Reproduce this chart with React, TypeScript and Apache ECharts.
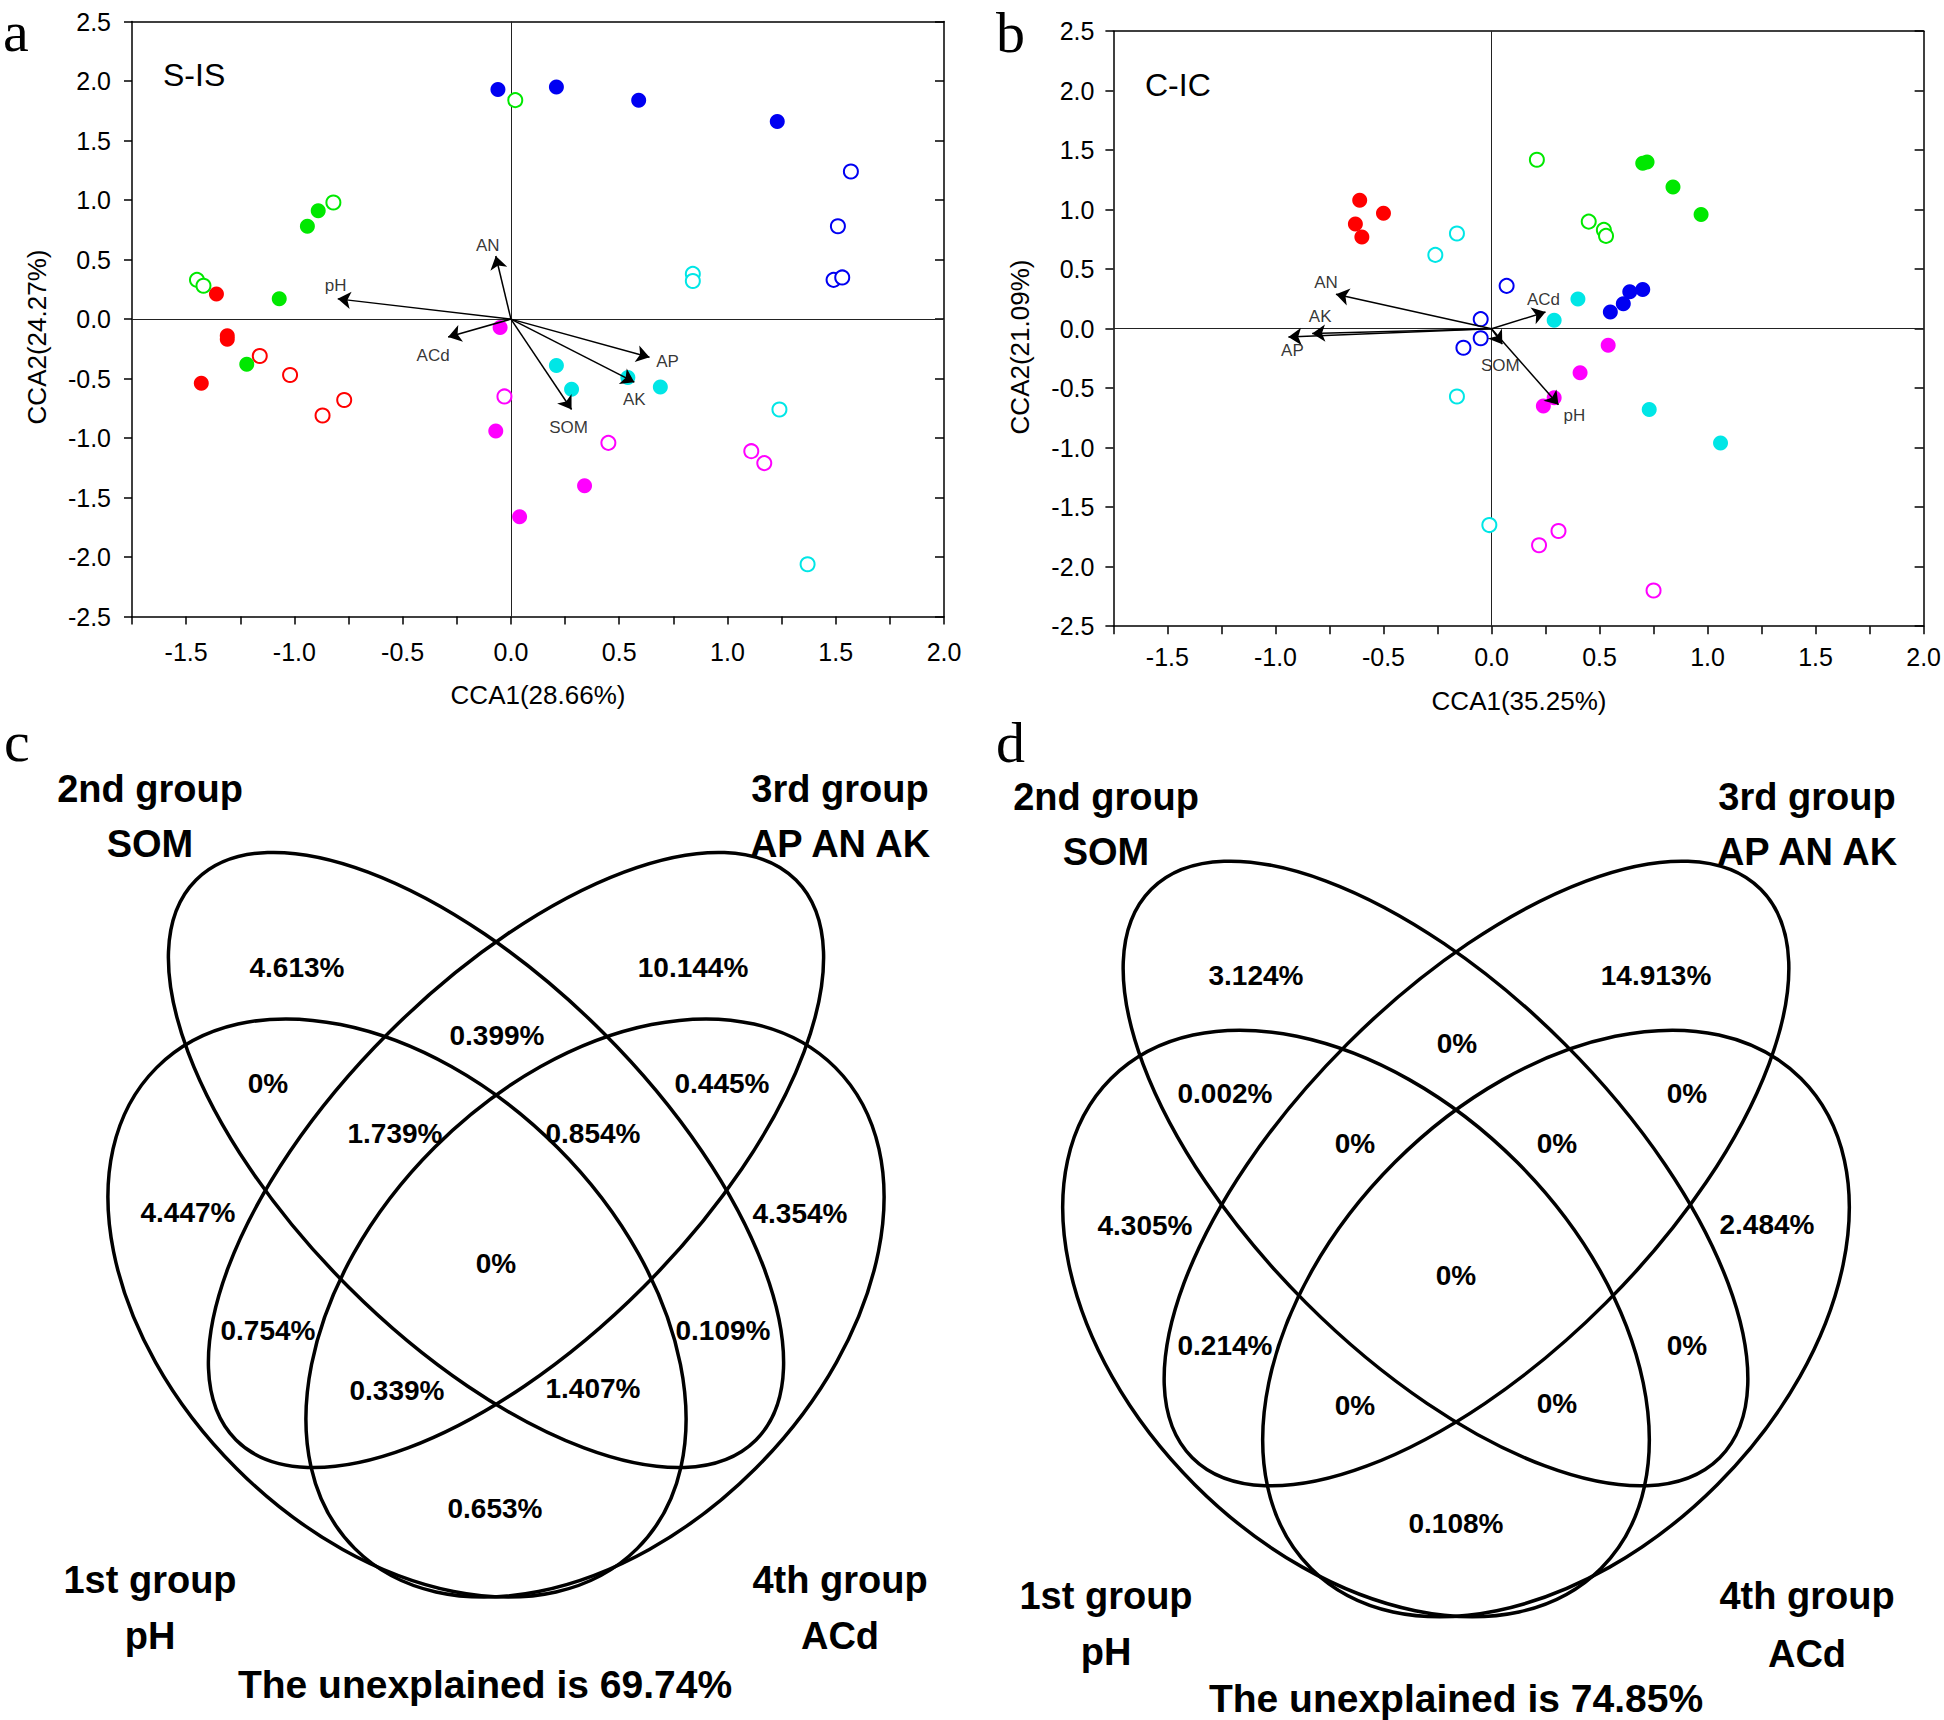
import React, { useEffect, useRef } from 'react';
import * as echarts from 'echarts';

const SANS = '"Liberation Sans", Arial, Helvetica, sans-serif';
const SERIF = '"Liberation Serif", "Times New Roman", serif';

// ---------- axis ranges / ticks ----------
const X_MIN = -1.75;
const X_MAX = 2.0;
const X_STEP = 0.25;
const Y_MIN = -2.5;
const Y_MAX = 2.5;
const Y_STEP = 0.5;

// ---------- panel a (S-IS) sample scores ----------
const aBlueFilled = [[-0.06, 1.93], [0.21, 1.95], [0.59, 1.84], [1.23, 1.66]];
const aBlueOpen = [[1.57, 1.24], [1.51, 0.78], [1.49, 0.33], [1.53, 0.35]];
const aGreenFilled = [[-0.89, 0.91], [-0.94, 0.78], [-1.07, 0.17], [-1.22, -0.38]];
const aGreenOpen = [[0.02, 1.84], [-0.82, 0.98], [-1.45, 0.33], [-1.42, 0.28]];
const aRedFilled = [[-1.36, 0.21], [-1.31, -0.14], [-1.31, -0.17], [-1.43, -0.54]];
const aRedOpen = [[-1.16, -0.31], [-1.02, -0.47], [-0.87, -0.81], [-0.77, -0.68]];
const aCyanFilled = [[0.21, -0.39], [0.28, -0.59], [0.54, -0.49], [0.69, -0.57]];
const aCyanOpen = [[0.84, 0.38], [0.84, 0.32], [1.24, -0.76], [1.37, -2.06]];
const aMagentaFilled = [[-0.05, -0.07], [-0.07, -0.94], [0.34, -1.4], [0.04, -1.66]];
const aMagentaOpen = [[-0.03, -0.65], [0.45, -1.04], [1.11, -1.11], [1.17, -1.21]];

// panel a environmental vectors
const aEnvNames = ['pH', 'AN', 'ACd', 'AP', 'AK', 'SOM'];
const aEnvX = [-0.8, -0.07, -0.29, 0.64, 0.57, 0.28];
const aEnvY = [0.17, 0.53, -0.15, -0.32, -0.53, -0.76];

// ---------- panel b (C-IC) sample scores ----------
const bBlueFilled = [[0.7, 0.33], [0.64, 0.31], [0.61, 0.21], [0.55, 0.14]];
const bBlueOpen = [[0.07, 0.36], [-0.05, 0.08], [-0.05, -0.08], [-0.13, -0.16]];
const bGreenFilled = [[0.7, 1.39], [0.72, 1.4], [0.84, 1.19], [0.97, 0.96]];
const bGreenOpen = [[0.21, 1.42], [0.45, 0.9], [0.52, 0.83], [0.53, 0.78]];
const bRedFilled = [[-0.61, 1.08], [-0.5, 0.97], [-0.63, 0.88], [-0.6, 0.77]];
const bCyanFilled = [[0.4, 0.25], [0.29, 0.07], [0.73, -0.68], [1.06, -0.96]];
const bCyanOpen = [[-0.16, 0.8], [-0.26, 0.62], [-0.16, -0.57], [-0.01, -1.65]];
const bMagentaFilled = [[0.54, -0.14], [0.41, -0.37], [0.29, -0.58], [0.24, -0.65]];
const bMagentaOpen = [[0.31, -1.7], [0.22, -1.82], [0.75, -2.2]];

// panel b environmental vectors
const bEnvNames = ['AN', 'AK', 'AP', 'ACd', 'SOM', 'pH'];
const bEnvX = [-0.72, -0.83, -0.94, 0.25, 0.05, 0.31];
const bEnvY = [0.29, -0.04, -0.07, 0.14, -0.13, -0.64];

// ---------- Venn (variation partitioning) values ----------
const vennGroups = ['2nd group', '3rd group', '1st group', '4th group'];
const vennVars = ['SOM', 'AP AN AK', 'pH', 'ACd'];
const vennCValues = ['4.613%', '10.144%', '0.399%', '0%', '0.445%', '1.739%', '0.854%', '4.447%', '4.354%', '0%', '0.754%', '0.109%', '0.339%', '1.407%', '0.653%'];
const vennDValues = ['3.124%', '14.913%', '0%', '0.002%', '0%', '0%', '0%', '4.305%', '2.484%', '0%', '0.214%', '0%', '0%', '0%', '0.108%'];
const unexplainedC = 69.74;
const unexplainedD = 74.85;

// ---------- styles / layout ----------
const COLORS = {
  red: '#ff0000',
  green: '#00e800',
  blue: '#0000f2',
  cyan: '#00e6e6',
  magenta: '#ff00ff',
};

const aLabelOffsets = [[-2, -13], [-8, -11], [-15, 19], [18, 4], [0, 17], [-3, 18]];
const bLabelOffsets = [[-10, -12], [8, -17], [4, 13], [-2, -13], [-2, 21], [16, 11]];

const GRID_W = 812;
const GRID_H = 595;
const gridA = { left: 132, top: 21.6 };
const gridB = { left: 1113.4, top: 31.2 };

const vennCLayout = {
  ellipses: [
    { cx: 476, cy: 1160, rx: 396, ry: 180, rot: -45 },
    { cx: 516, cy: 1160, rx: 396, ry: 180, rot: 45 },
    { cx: 397, cy: 1308, rx: 340, ry: 227, rot: -45 },
    { cx: 595, cy: 1308, rx: 340, ry: 227, rot: 45 },
  ],
  regions: [[297, 967], [693, 967], [497, 1035], [268, 1083], [722, 1083], [395, 1133], [593, 1133], [188, 1212], [800, 1213], [496, 1263], [268, 1330], [723, 1330], [397, 1390], [593, 1388], [495, 1508]],
  groupPos: [[150, 789], [840, 789], [150, 1580], [840, 1580]],
  varPos: [[150, 844], [840, 844], [150, 1636], [840, 1636]],
  unexplainedPos: [485, 1684],
};

const vennDLayout = {
  ellipses: [
    { cx: 1435.5, cy: 1173.5, rx: 402, ry: 183, rot: -45 },
    { cx: 1476.5, cy: 1173.5, rx: 402, ry: 183, rot: 45 },
    { cx: 1356, cy: 1323.5, rx: 346.5, ry: 228, rot: -45 },
    { cx: 1556, cy: 1323.5, rx: 346.5, ry: 228, rot: 45 },
  ],
  regions: [[1256, 975], [1656, 975], [1457, 1043], [1225, 1093], [1687, 1093], [1355, 1143], [1557, 1143], [1145, 1225], [1767, 1224], [1456, 1275], [1225, 1345], [1687, 1345], [1355, 1405], [1557, 1403], [1456, 1523]],
  groupPos: [[1106, 797], [1807, 797], [1106, 1596], [1807, 1596]],
  varPos: [[1106, 852], [1807, 852], [1106, 1652], [1807, 1654]],
  unexplainedPos: [1456, 1698],
};

function txt(text: string, x: number, y: number, size: number, opts: any = {}) {
  const align = opts.align || 'center';
  const vAlign = opts.vAlign || 'middle';
  return {
    type: 'text',
    x,
    y,
    rotation: opts.rotation || 0,
    silent: true,
    z: 10,
    style: {
      text,
      fill: '#000',
      font: `${opts.bold ? 'bold ' : ''}${size}px ${opts.family || SANS}`,
      align,
      verticalAlign: vAlign,
      textAlign: align,
      textVerticalAlign: vAlign,
    },
  };
}

function vennGraphics(layout: any, values: string[], unexplained: number) {
  const els: any[] = [];
  layout.ellipses.forEach((e: any) => {
    els.push({
      type: 'ellipse',
      x: e.cx,
      y: e.cy,
      rotation: (e.rot * Math.PI) / 180,
      silent: true,
      shape: { cx: 0, cy: 0, rx: e.rx, ry: e.ry },
      style: { fill: 'none', stroke: '#000', lineWidth: 3.5 },
    });
  });
  values.forEach((v, i) => {
    const p = layout.regions[i];
    els.push(txt(v, p[0], p[1], 28, { bold: true }));
  });
  vennGroups.forEach((g, i) => {
    els.push(txt(g, layout.groupPos[i][0], layout.groupPos[i][1], 38, { bold: true }));
    els.push(txt(vennVars[i], layout.varPos[i][0], layout.varPos[i][1], 38, { bold: true }));
  });
  els.push(txt(`The unexplained is ${unexplained.toFixed(2)}%`, layout.unexplainedPos[0], layout.unexplainedPos[1], 39, { bold: true }));
  return els;
}

const xLabelFmt = (v: number) => (Math.abs(v * 2 - Math.round(v * 2)) < 1e-6 ? v.toFixed(1) : '');

function axesFor(gridIndex: number, xMargin: number, yMargin: number) {
  const line = { show: true, onZero: false, lineStyle: { color: '#000', width: 1.5 } };
  const xBottom = {
    type: 'value', gridIndex, position: 'bottom', min: X_MIN, max: X_MAX, interval: X_STEP,
    axisLine: line,
    axisTick: { show: true, inside: false, length: 8, lineStyle: { color: '#000', width: 1.5 } },
    axisLabel: { show: true, formatter: xLabelFmt, margin: xMargin, color: '#000', fontSize: 25, fontFamily: SANS, showMinLabel: true, showMaxLabel: true },
    splitLine: { show: false },
  };
  const xTop = {
    type: 'value', gridIndex, position: 'top', min: X_MIN, max: X_MAX, interval: X_STEP,
    axisLine: line, axisTick: { show: false }, axisLabel: { show: false }, splitLine: { show: false },
  };
  const yLeft = {
    type: 'value', gridIndex, position: 'left', min: Y_MIN, max: Y_MAX, interval: Y_STEP,
    axisLine: line,
    axisTick: { show: true, inside: false, length: 8, lineStyle: { color: '#000', width: 1.5 } },
    axisLabel: { show: true, formatter: (v: number) => v.toFixed(1), margin: yMargin, color: '#000', fontSize: 25, fontFamily: SANS, showMinLabel: true, showMaxLabel: true },
    splitLine: { show: false },
  };
  const yRight = {
    type: 'value', gridIndex, position: 'right', min: Y_MIN, max: Y_MAX, interval: Y_STEP,
    axisLine: line,
    axisTick: { show: true, inside: true, length: 9, lineStyle: { color: '#000', width: 1.5 } },
    axisLabel: { show: false }, splitLine: { show: false },
  };
  return { x: [xBottom, xTop], y: [yLeft, yRight] };
}

function panelSeries(axisIdx: number, groups: any[], envNames: string[], envX: number[], envY: number[], offsets: number[][]) {
  const series: any[] = [];
  groups.forEach((g) => {
    series.push({
      type: 'scatter',
      xAxisIndex: axisIdx,
      yAxisIndex: axisIdx,
      data: g.data,
      symbol: g.filled ? 'circle' : 'emptyCircle',
      symbolSize: g.filled ? 15 : 14,
      itemStyle: g.filled ? { color: g.color, opacity: 1 } : { color: g.color, borderColor: g.color, borderWidth: 1.5, opacity: 1 },
      z: 3,
      silent: true,
    });
  });
  series.push({
    type: 'lines',
    coordinateSystem: 'cartesian2d',
    xAxisIndex: axisIdx,
    yAxisIndex: axisIdx,
    symbol: ['none', 'arrow'],
    symbolSize: [1, 13],
    lineStyle: { color: '#000', width: 1.5, opacity: 1 },
    data: envNames.map((n, i) => ({ name: n, coords: [[0, 0], [envX[i], envY[i]]] })),
    z: 5,
    silent: true,
  });
  series.push({
    type: 'scatter',
    xAxisIndex: axisIdx,
    yAxisIndex: axisIdx,
    symbolSize: 1,
    itemStyle: { color: 'rgba(0,0,0,0)' },
    label: { show: true, position: 'inside', formatter: '{b}', color: '#000', fontSize: 17, fontFamily: SANS },
    data: envNames.map((n, i) => ({ name: n, value: [envX[i], envY[i]], label: { offset: offsets[i] } })),
    markLine: {
      silent: true,
      symbol: 'none',
      label: { show: false },
      lineStyle: { color: '#222', width: 1, type: 'solid' },
      data: [{ xAxis: 0 }, { yAxis: 0 }],
      z: 1,
    },
    z: 6,
    silent: true,
  });
  return series;
}

export default function App() {
  const ref = useRef<HTMLDivElement>(null);

  useEffect(() => {
    if (!ref.current) return;
    const chart = echarts.init(ref.current, undefined, { renderer: 'svg' });

    const axA = axesFor(0, 23, 21);
    const axB = axesFor(1, 18, 19);

    const groupsA = [
      { data: aRedFilled, color: COLORS.red, filled: true },
      { data: aRedOpen, color: COLORS.red, filled: false },
      { data: aGreenFilled, color: COLORS.green, filled: true },
      { data: aGreenOpen, color: COLORS.green, filled: false },
      { data: aBlueFilled, color: COLORS.blue, filled: true },
      { data: aBlueOpen, color: COLORS.blue, filled: false },
      { data: aCyanFilled, color: COLORS.cyan, filled: true },
      { data: aCyanOpen, color: COLORS.cyan, filled: false },
      { data: aMagentaFilled, color: COLORS.magenta, filled: true },
      { data: aMagentaOpen, color: COLORS.magenta, filled: false },
    ];
    const groupsB = [
      { data: bRedFilled, color: COLORS.red, filled: true },
      { data: bGreenFilled, color: COLORS.green, filled: true },
      { data: bGreenOpen, color: COLORS.green, filled: false },
      { data: bBlueFilled, color: COLORS.blue, filled: true },
      { data: bBlueOpen, color: COLORS.blue, filled: false },
      { data: bCyanFilled, color: COLORS.cyan, filled: true },
      { data: bCyanOpen, color: COLORS.cyan, filled: false },
      { data: bMagentaFilled, color: COLORS.magenta, filled: true },
      { data: bMagentaOpen, color: COLORS.magenta, filled: false },
    ];

    // axis indices: grid 0 -> xAxis 0 (bottom), 1 (top); grid 1 -> xAxis 2, 3
    const seriesA = panelSeries(0, groupsA, aEnvNames, aEnvX, aEnvY, aLabelOffsets);
    const seriesB = panelSeries(2, groupsB, bEnvNames, bEnvX, bEnvY, bLabelOffsets);

    const graphics: any[] = [
      txt('a', 3, 60, 58, { family: SERIF, align: 'left', vAlign: 'bottom' }),
      txt('b', 996, 61, 58, { family: SERIF, align: 'left', vAlign: 'bottom' }),
      txt('c', 4, 741, 58, { family: SERIF, align: 'left' }),
      txt('d', 996, 742, 58, { family: SERIF, align: 'left' }),
      txt('S-IS', 163, 75, 32, { align: 'left' }),
      txt('C-IC', 1145, 85, 32, { align: 'left' }),
      txt('CCA1(28.66%)', 538, 695, 26),
      txt('CCA2(24.27%)', 37, 337, 26, { rotation: Math.PI / 2 }),
      txt('CCA1(35.25%)', 1519, 701, 26),
      txt('CCA2(21.09%)', 1020, 347, 26, { rotation: Math.PI / 2 }),
      ...vennGraphics(vennCLayout, vennCValues, unexplainedC),
      ...vennGraphics(vennDLayout, vennDValues, unexplainedD),
    ];

    chart.setOption({
      animation: false,
      backgroundColor: '#ffffff',
      textStyle: { fontFamily: SANS },
      grid: [
        { left: gridA.left, top: gridA.top, width: GRID_W, height: GRID_H, containLabel: false },
        { left: gridB.left, top: gridB.top, width: GRID_W, height: GRID_H, containLabel: false },
      ],
      xAxis: [...axA.x, ...axB.x],
      yAxis: [...axA.y, ...axB.y],
      series: [...seriesA, ...seriesB],
      graphic: { elements: graphics },
    });

    return () => {
      chart.dispose();
    };
  }, []);

  return (
    <div
      ref={ref}
      style={{ position: 'absolute', left: 0, top: 0, width: 1944, height: 1720, background: '#fff' }}
    />
  );
}
